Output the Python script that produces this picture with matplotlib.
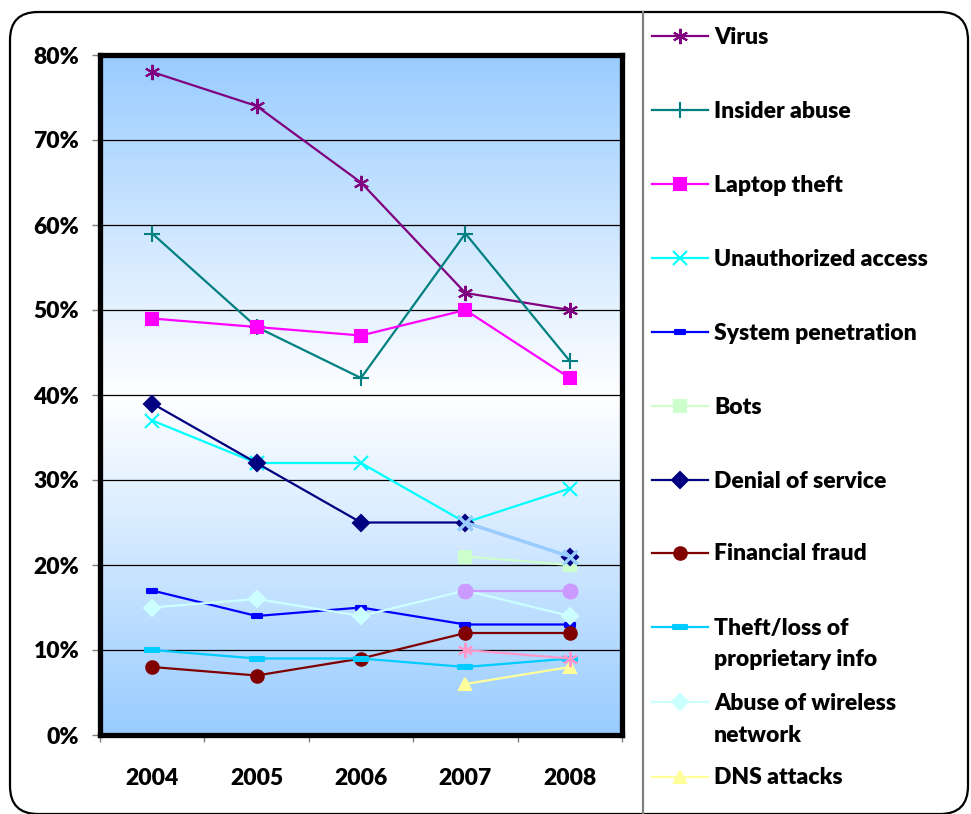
import numpy as np
import matplotlib
matplotlib.use("Agg")
import matplotlib.pyplot as plt
from matplotlib.colors import LinearSegmentedColormap
from matplotlib.patches import FancyBboxPatch
from matplotlib.path import Path

plt.rcParams['font.family'] = ['Lato', 'DejaVu Sans']
plt.rcParams['font.weight'] = 'heavy'

years = ['2004', '2005', '2006', '2007', '2008']

# percentages of respondents per incident type
virus = [78, 74, 65, 52, 50]
insider_abuse = [59, 48, 42, 59, 44]
laptop_theft = [49, 48, 47, 50, 42]
unauthorized = [37, 32, 32, 25, 29]
system_pen = [17, 14, 15, 13, 13]
bots = [None, None, None, 21, 20]
dos = [39, 32, 25, 25, 21]
fin_fraud = [8, 7, 9, 12, 12]
theft_info = [10, 9, 9, 8, 9]
wireless = [15, 16, 14, 17, 14]
dns = [None, None, None, 6, 8]
# series without a legend entry
im_misuse = [None, None, None, 25, 21]
customer_data = [None, None, None, 17, 17]
pw_sniffing = [None, None, None, 10, 9]

dash_big = Path([(-1, -0.35), (1, -0.35), (1, 0.35), (-1, 0.35), (-1, -0.35)],
                [Path.MOVETO, Path.LINETO, Path.LINETO, Path.LINETO, Path.CLOSEPOLY])

# label, data, color, marker, markersize, filled
series = [
    ('Virus', virus, '#800080', (6, 2, 0), 11, False),
    ('Insider abuse', insider_abuse, '#008080', '+', 11, False),
    ('Laptop theft', laptop_theft, '#FF00FF', 's', 8, True),
    ('Unauthorized access', unauthorized, '#00FFFF', 'x', 10, False),
    ('System penetration', system_pen, '#0000FF', dash_big, 7, True),
    ('Bots', bots, '#CCFFCC', 's', 8, True),
    ('Denial of service', dos, '#000080', 'D', 8, True),
    ('Financial fraud', fin_fraud, '#800000', 'o', 9, True),
    ('Theft/loss of\nproprietary info', theft_info, '#00CCFF', dash_big, 10, True),
    ('Abuse of wireless\nnetwork', wireless, '#CCFFFF', 'D', 8, True),
    ('DNS attacks', dns, '#FFFF99', '^', 9, True),
]

extra = [
    (im_misuse, '#99CCFF', 'x', 10),
    (customer_data, '#CC99FF', 'o', 10),
    (pw_sniffing, '#FF99CC', (6, 2, 0), 11),
]


def to_arr(vals):
    return np.array([np.nan if v is None else v / 100 for v in vals], dtype=float)


fig = plt.figure(figsize=(9.71, 8.14), dpi=100)

# frame, divider and legend drawn in pixel coordinates
bg = fig.add_axes([0, 0, 1, 1])
bg.set_xlim(0, 971)
bg.set_ylim(814, 0)
bg.axis('off')
bg.add_patch(FancyBboxPatch((10, 12), 958, 802, boxstyle='round,pad=0,rounding_size=28',
                            fill=False, edgecolor='black', linewidth=1.6))
bg.plot([643, 643], [12, 814], color='#808080', linewidth=1.6)

ax = fig.add_axes([100 / 971, 79 / 814, 522 / 971, 680 / 814])
x = np.arange(len(years))

cmap = LinearSegmentedColormap.from_list('bluewhite', ['#99CCFF', '#FFFFFF', '#99CCFF'])
grad = np.linspace(0, 1, 256).reshape(-1, 1)
ax.imshow(grad, extent=(-0.5, 4.5, 0, 0.8), aspect='auto', cmap=cmap, zorder=0)

for label, data, color, marker, ms, filled in series:
    ax.plot(x, to_arr(data), color=color, linewidth=1.6, marker=marker, markersize=ms,
            markeredgewidth=1.5, markerfacecolor=color if filled else 'none',
            markeredgecolor=color, zorder=3)

for data, color, marker, ms in extra:
    ax.plot(x, to_arr(data), color=color, linewidth=2.4 if marker == 'x' else 1.6,
            marker=marker, markersize=ms, markeredgewidth=2.5 if marker == 'x' else 1.5,
            markerfacecolor=color, markeredgecolor=color, zorder=4)

ax.set_xlim(-0.5, 4.5)
ax.set_ylim(0, 0.8)
ax.set_yticks(np.arange(0, 0.81, 0.1))
ax.set_yticklabels([f'{int(round(v * 100))}%' for v in np.arange(0, 0.81, 0.1)])
ax.set_xticks(x)
ax.set_xticklabels(years)
ax.set_xticks(np.arange(-0.5, 4.6, 1), minor=True)
ax.grid(axis='y', color='black', linewidth=0.9)
ax.set_axisbelow(False)
for gl in ax.get_ygridlines():
    gl.set_zorder(1)

ax.tick_params(axis='y', length=6, width=1, color='#808080', pad=9, labelsize=16.5)
ax.tick_params(axis='x', which='major', length=0, pad=24, labelsize=16.5)
ax.tick_params(axis='x', which='minor', length=5, width=1, color='#808080')
for sp in ax.spines.values():
    sp.set_linewidth(3.8)
    sp.set_color('black')
    sp.set_zorder(5)

# legend entries
rows = [36, 110, 184, 258, 332, 406, 480, 553, 627, 702, 777]
for (label, data, color, marker, ms, filled), ry in zip(series, rows):
    bg.plot([652, 708], [ry, ry], color=color, linewidth=1.6)
    bg.plot([680], [ry], color=color, marker=marker, markersize=ms, markeredgewidth=1.5,
            markerfacecolor=color if filled else 'none', markeredgecolor=color)
    for i, line in enumerate(label.split('\n')):
        bg.text(714, ry + 1 + i * 32, line, fontsize=16.5, va='center', ha='left')

fig.savefig('out.png', dpi=100)
